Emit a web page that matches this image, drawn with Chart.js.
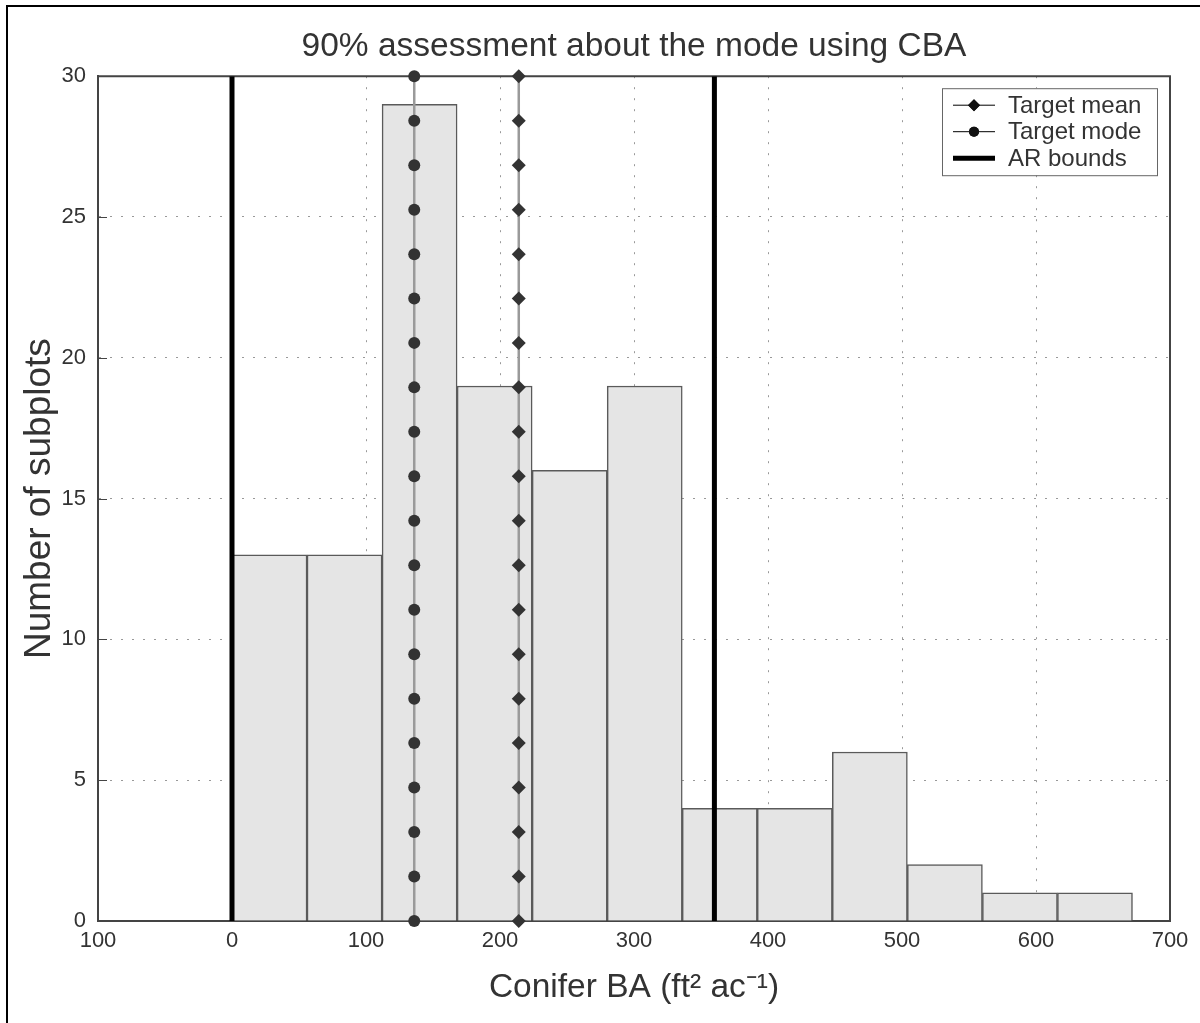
<!DOCTYPE html>
<html>
<head>
<meta charset="utf-8">
<script src="https://cdn.jsdelivr.net/npm/chart.js@4.4.0/dist/chart.umd.min.js"></script>
<style>
body{margin:0;background:#fff;}
#wrap{width:1200px;height:1023px;}
</style>
</head>
<body>
<div id="wrap"><canvas id="myChart" width="1200" height="1023"></canvas></div>
<script>
// histogram : bin centres (ft2/ac) and number of subplots in each bin
var binCenters = [28, 84, 140, 196, 252, 308, 364, 420, 476, 532, 588, 644];
var binCounts  = [13, 13, 29, 19, 16, 19, 4, 4, 6, 2, 1, 1];

var targetMean = 214;
var targetMode = 136;
var arBounds = [0, 360];

// heights of the markers drawn along the mean / mode lines
var markerY = [0, 1.58, 3.16, 4.74, 6.32, 7.89, 9.47, 11.05, 12.63, 14.21,
               15.79, 17.37, 18.95, 20.53, 22.11, 23.68, 25.26, 26.84, 28.42, 30];

var xTicks = [-100, 0, 100, 200, 300, 400, 500, 600, 700];
var xTickLabels = ['100', '0', '100', '200', '300', '400', '500', '600', '700'];
var yTicks = [0, 5, 10, 15, 20, 25, 30];

var legendLabels = ['Target mean', 'Target mode', 'AR bounds'];

var FONT = "'Liberation Sans', Arial, Helvetica, sans-serif";
var TEXT = '#333';

function vline(x){
    return markerY.map(function(y){ return {x: x, y: y}; });
}

//outer figure border (only left and top are visible)
var figBorder = {
    id: 'figBorder',
    beforeDraw: function(chart){
        var ctx = chart.ctx;
        ctx.save();
        ctx.strokeStyle = '#000';
        ctx.lineWidth = 2;
        ctx.beginPath();
        ctx.moveTo(7, chart.height);
        ctx.lineTo(7, 6);
        ctx.lineTo(chart.width, 6);
        ctx.stroke();
        ctx.restore();
    }
};

// top / right frame and inner ticks on the left axis
var frame = {
    id: 'frame',
    beforeDatasetsDraw: function(chart){
        var ctx = chart.ctx, a = chart.chartArea;
        var ys = chart.scales.y;
        ctx.save();
        ctx.strokeStyle = '#444';
        ctx.lineWidth = 2;
        ctx.beginPath();
        ctx.moveTo(a.left, a.top);
        ctx.lineTo(a.right, a.top);
        ctx.lineTo(a.right, a.bottom);
        ctx.stroke();
        ctx.lineWidth = 1;
        ctx.beginPath();
        for (var i = 1; i < yTicks.length - 1; i++) {
            var py = Math.round(ys.getPixelForValue(yTicks[i])) + 0.5;
            ctx.moveTo(a.left, py);
            ctx.lineTo(a.left + 9, py);
        }
        ctx.stroke();
        ctx.restore();
    }
};

// legend box in the upper right corner of the axes
var boxLegend = {
    id: 'boxLegend',
    afterDatasetsDraw: function(chart){
        var ctx = chart.ctx, a = chart.chartArea;
        var w = 215, h = 87;
        var x0 = a.right - 13 - w, y0 = a.top + 12;
        ctx.save();
        ctx.fillStyle = '#fff';
        ctx.fillRect(x0, y0, w, h);
        ctx.strokeStyle = '#666';
        ctx.lineWidth = 1;
        ctx.strokeRect(x0 + 0.5, y0 + 0.5, w, h);

        var lx1 = x0 + 11, lx2 = x0 + 53, cx = (lx1 + lx2) / 2;
        for (var i = 0; i < legendLabels.length; i++) {
            var cy = y0 + 17 + i * 26.5;
            ctx.strokeStyle = '#000';
            ctx.fillStyle = '#111';
            if (i == 2) {
                ctx.lineWidth = 5;
                ctx.beginPath(); ctx.moveTo(lx1, cy); ctx.lineTo(lx2, cy); ctx.stroke();
            } else {
                ctx.lineWidth = 1;
                ctx.beginPath(); ctx.moveTo(lx1, cy); ctx.lineTo(lx2, cy); ctx.stroke();
                Chart.helpers.drawPoint(ctx, {pointStyle: i == 0 ? 'rectRot' : 'circle', radius: i == 0 ? 6 : 5, borderWidth: 0}, cx, cy);
                ctx.fill();
            }
            ctx.fillStyle = TEXT;
            ctx.font = '24px ' + FONT;
            ctx.textBaseline = 'middle';
            ctx.fillText(legendLabels[i], x0 + 66, cy + 1);
        }
        ctx.restore();
    }
};

var barData = binCenters.map(function(c, i){ return {x: c, y: binCounts[i]}; });

var ctx = document.getElementById('myChart');
var mychart = new Chart(ctx, {
    type: 'bar',
    data: {
        datasets: [
            {
                type: 'line',
                label: 'Target mean',
                data: vline(targetMean),
                borderColor: '#9a9a9a',
                borderWidth: 2.5,
                pointStyle: 'rectRot',
                pointRadius: 7,
                pointBackgroundColor: '#333',
                pointBorderColor: '#333',
                pointBorderWidth: 0,
                clip: false,
                order: 1
            },
            {
                type: 'line',
                label: 'Target mode',
                data: vline(targetMode),
                borderColor: '#9a9a9a',
                borderWidth: 2.5,
                pointStyle: 'circle',
                pointRadius: 6,
                pointBackgroundColor: '#333',
                pointBorderColor: '#333',
                pointBorderWidth: 0,
                clip: false,
                order: 1
            },
            {
                type: 'line',
                label: 'AR bounds',
                data: [{x: arBounds[0], y: 0}, {x: arBounds[0], y: 30}],
                borderColor: '#000',
                borderWidth: 5,
                pointRadius: 0,
                order: 2
            },
            {
                type: 'line',
                label: 'AR bounds upper',
                data: [{x: arBounds[1], y: 0}, {x: arBounds[1], y: 30}],
                borderColor: '#000',
                borderWidth: 5,
                pointRadius: 0,
                order: 2
            },
            {
                type: 'bar',
                label: 'Subplots',
                data: barData,
                backgroundColor: '#e5e5e5',
                borderColor: '#5a5a5a',
                borderWidth: 1.5,
                barPercentage: 1,
                categoryPercentage: 1,
                order: 3
            }
        ]
    },
    options: {
        responsive: false,
        animation: false,
        layout: {padding: {top: 0, right: 30, bottom: 0, left: 0}},
        plugins: {
            legend: {display: false},
            tooltip: {enabled: false},
            title: {
                display: true,
                fullSize: false,
                text: '90% assessment about the mode using CBA',
                color: TEXT,
                font: {family: FONT, size: 33.5, weight: 'normal'},
                padding: {top: 27, bottom: 9}
            }
        },
        scales: {
            x: {
                type: 'linear',
                min: -100,
                max: 700,
                offset: false,
                afterFit: function(scale){ scale.height = 102; },
                afterBuildTicks: function(scale){
                    scale.ticks = xTicks.map(function(v){ return {value: v}; });
                },
                ticks: {
                    color: TEXT,
                    font: {family: FONT, size: 22},
                    padding: 7,
                    maxRotation: 0,
                    autoSkip: false,
                    callback: function(value){ return xTickLabels[xTicks.indexOf(value)]; }
                },
                grid: {color: '#999', lineWidth: 1, drawTicks: false, offset: false},
                border: {display: true, color: '#444', width: 2, dash: [2, 9]},
                title: {
                    display: true,
                    text: 'Conifer BA (ft² ac⁻¹)',
                    color: TEXT,
                    font: {family: FONT, size: 33.5},
                    padding: {top: 0, bottom: 15}
                }
            },
            y: {
                min: 0,
                max: 30,
                afterFit: function(scale){ scale.width = 98; },
                ticks: {
                    stepSize: 5,
                    color: TEXT,
                    font: {family: FONT, size: 22},
                    padding: 12
                },
                grid: {color: '#999', lineWidth: 1, drawTicks: false},
                border: {display: true, color: '#444', width: 2, dash: [2, 9]},
                title: {
                    display: true,
                    text: 'Number of subplots',
                    color: TEXT,
                    font: {family: FONT, size: 37},
                    padding: {top: 18, bottom: 0}
                }
            }
        }
    },
    plugins: [figBorder, frame, boxLegend]
});
</script>
</body>
</html>
